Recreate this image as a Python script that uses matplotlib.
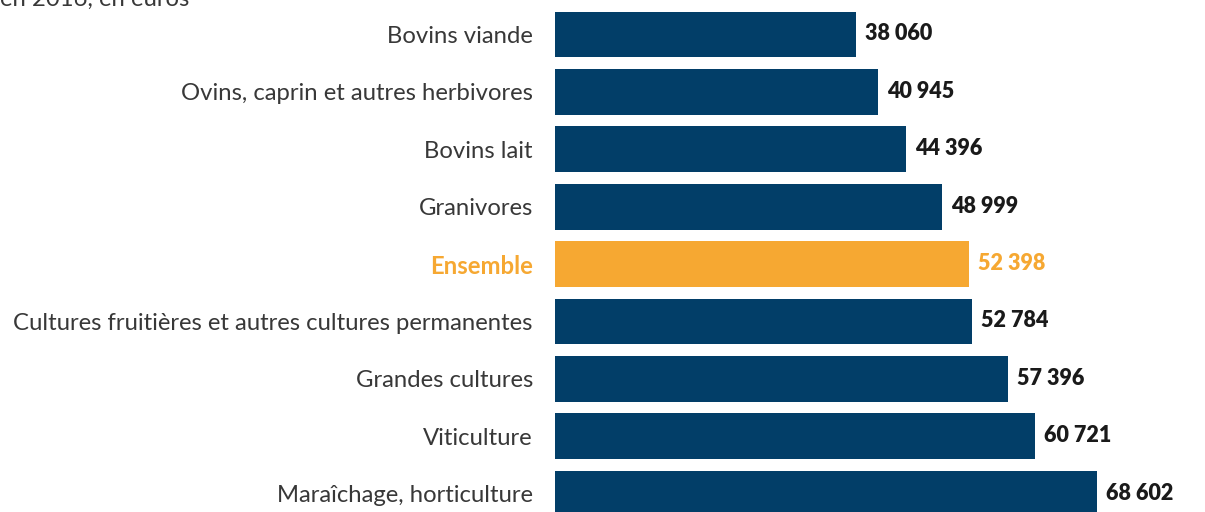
import matplotlib
matplotlib.use("Agg")
import matplotlib.pyplot as plt

categories = ["Bovins viande", "Ovins, caprin et autres herbivores", "Bovins lait",
              "Granivores", "Ensemble", "Cultures fruitières et autres cultures permanentes",
              "Grandes cultures", "Viticulture", "Maraîchage, horticulture"]
values = [38060, 40945, 44396, 48999, 52398, 52784, 57396, 60721, 68602]
value_labels = ["38 060", "40 945", "44 396", "48 999", "52 398", "52 784", "57 396", "60 721", "68 602"]
highlight = "Ensemble"

NAVY = "#023e68"
ORANGE = "#f6a832"
TEXT = "#383838"

W, H = 1205, 512
fig = plt.figure(figsize=(W/100, H/100), dpi=100)
fig.patch.set_facecolor("white")

left_px = 555
ax = fig.add_axes([left_px/W, 0, (W-left_px)/W, 1])
px_per_unit = 0.0079
ax.set_xlim(0, (W-left_px)/px_per_unit)
y0 = 34.5; step = 57.4
ax.set_ylim((H - y0)/step, -y0/step)

ys = list(range(len(categories)))
colors = [ORANGE if c == highlight else NAVY for c in categories]
ax.barh(ys, values, height=0.80, color=colors)

for y, v, lab, c in zip(ys, values, value_labels, categories):
    col = ORANGE if c == highlight else "#1a1a1a"
    ax.annotate(lab, (v, y), xytext=(6.5, 0.5), textcoords="offset points",
                va="center", ha="left", fontsize=15.5, fontweight="heavy",
                family="Lato", color=col)

ax.set_yticks(ys)
ax.set_yticklabels(categories, family="Lato", fontsize=17.2, color=TEXT)
for t, c in zip(ax.get_yticklabels(), categories):
    if c == highlight:
        t.set_color(ORANGE)
        t.set_fontweight("bold")
ax.tick_params(axis="y", length=0, pad=16)
ax.set_xticks([])
for s in ax.spines.values():
    s.set_visible(False)

fig.text(0.0, 1 - 6/H, "en 2016, en euros", family="Lato", fontsize=17.2,
         color=TEXT, va="baseline", ha="left")

fig.savefig("out.png", dpi=100)
